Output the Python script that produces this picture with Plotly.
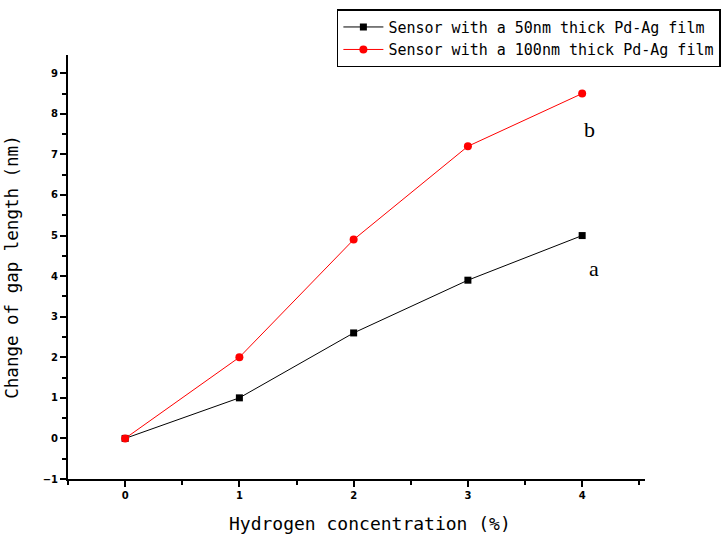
import plotly.graph_objects as go

x_conc = [0, 1, 2, 3, 4]
gap_50nm = [0.0, 1.0, 2.6, 3.9, 5.0]
gap_100nm = [0.0, 2.0, 4.9, 7.2, 8.5]
name_50 = "Sensor with a 50nm thick Pd-Ag film"
name_100 = "Sensor with a 100nm thick Pd-Ag film"
x_title = "Hydrogen concentration (%)"
y_title = "Change of gap length (nm)"

fig = go.Figure()
fig.add_trace(go.Scatter(x=x_conc, y=gap_50nm, mode="lines+markers", name=name_50,
                         line=dict(color="black", width=1),
                         marker=dict(symbol="square", size=7, color="black")))
fig.add_trace(go.Scatter(x=x_conc, y=gap_100nm, mode="lines+markers", name=name_100,
                         line=dict(color="red", width=1),
                         marker=dict(symbol="circle", size=8, color="red")))

fig.add_annotation(x=4.1, y=4.2, text="a", showarrow=False, xref="x", yref="y",
                   font=dict(family="Liberation Serif", size=22, color="black"))
fig.add_annotation(x=4.06, y=7.62, text="b", showarrow=False, xref="x", yref="y",
                   font=dict(family="Liberation Serif", size=22, color="black"))
fig.add_annotation(x=0.523, y=-0.104, xref="paper", yref="paper", text=x_title,
                   showarrow=False, xanchor="center", yanchor="middle",
                   font=dict(family="DejaVu Sans Mono", size=18, color="black"))

axis_common = dict(showline=True, linecolor="black", linewidth=2, ticks="outside",
                   ticklen=6, tickwidth=1.5, tickcolor="black", showgrid=False, zeroline=False,
                   tickfont=dict(family="DejaVu Sans", size=10, color="black", weight="bold"),
                   minor=dict(ticks="outside", ticklen=4, tickwidth=1.5, tickcolor="black", dtick=0.5))

fig.update_layout(
    width=725, height=543,
    margin=dict(l=68, r=80, t=55, b=64, autoexpand=False),
    paper_bgcolor="white", plot_bgcolor="white",
    xaxis=dict(range=[-0.5, 4.55], dtick=1, tick0=0, **axis_common),
    yaxis=dict(range=[-1, 9.45], dtick=1, tick0=0,
               title=dict(text=y_title, standoff=20,
                          font=dict(family="DejaVu Sans Mono", size=17.5, color="black")),
               **axis_common),
    legend=dict(x=0.466, y=1.108, xanchor="left", yanchor="top",
                bordercolor="black", borderwidth=1.5, bgcolor="white",
                font=dict(family="DejaVu Sans Mono", size=15, color="black"),
                tracegroupgap=0, itemwidth=40),
    showlegend=True,
)

fig.write_html("out.html")
